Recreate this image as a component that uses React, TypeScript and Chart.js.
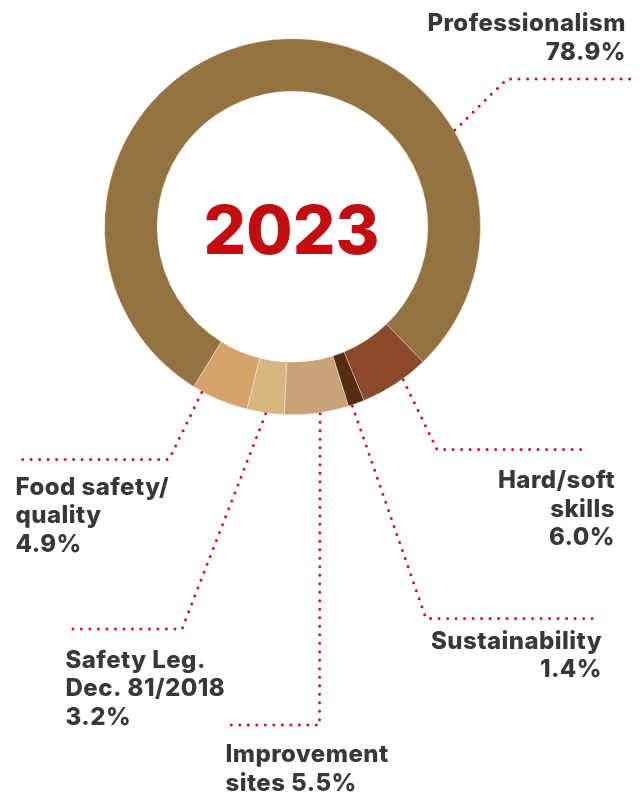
import { useEffect, useRef } from 'react';
import { Chart, ArcElement, DoughnutController } from 'chart.js';

Chart.register(ArcElement, DoughnutController);

// Training hours by topic, 2023 (share of total, %)
const categories = [
  'Professionalism',
  'Hard/soft skills',
  'Sustainability',
  'Improvement sites',
  'Safety Leg. Dec. 81/2018',
  'Food safety/quality',
];
const shares = [78.9, 6.0, 1.4, 5.5, 3.2, 4.9];
const sliceColors = ['#947341', '#8B4A2B', '#552E11', '#C9A278', '#D6B57E', '#D6A26C'];

// Text lines per callout; {v} is replaced by the formatted share
const calloutLines = [
  ['Professionalism', '{v}'],
  ['Hard/soft', 'skills', '{v}'],
  ['Sustainability', '{v}'],
  ['Improvement', 'sites {v}'],
  ['Safety Leg.', 'Dec. 81/2018', '{v}'],
  ['Food safety/', 'quality', '{v}'],
];
const centerTitle = '2023';

// Callout geometry: where on the slice the leader starts (fraction of the arc),
// the elbow of the dotted leader, its horizontal end, and the text block.
type Callout = {
  at: number;
  elbow: [number, number];
  endX: number;
  textX: number;
  align: CanvasTextAlign;
  baseline: number;
};
const callouts: Callout[] = [
  { at: 0.73, elbow: [507, 79], endX: 631, textX: 626, align: 'right', baseline: 31 },
  { at: 0.375, elbow: [437, 449.5], endX: 587, textX: 615, align: 'right', baseline: 488 },
  { at: 0.77, elbow: [426, 618.5], endX: 599, textX: 602, align: 'right', baseline: 648.5 },
  { at: 0.45, elbow: [319.5, 725], endX: 224.5, textX: 225.5, align: 'left', baseline: 762 },
  { at: 0.49, elbow: [182, 629], endX: 65.5, textX: 65.5, align: 'left', baseline: 667.5 },
  { at: 0.83, elbow: [169, 459.5], endX: 20.5, textX: 15.5, align: 'left', baseline: 494.5 },
];

const LINE_HEIGHT = 28.5;
const LABEL_FONT = '800 24px Inter';
const LABEL_COLOR = '#383838';
const LEADER_COLOR = '#D0121C';
const TITLE_COLOR = '#C20E10';

const calloutPlugin = {
  id: 'callouts',
  afterDatasetsDraw(chart: Chart) {
    const ctx = chart.ctx;
    const meta = chart.getDatasetMeta(0);
    const arcs = meta.data as any[];
    if (!arcs.length) return;
    const cx = arcs[0].x;
    const cy = arcs[0].y;

    // centre title
    ctx.save();
    ctx.font = '800 67px Inter';
    ctx.fillStyle = TITLE_COLOR;
    ctx.textAlign = 'center';
    ctx.textBaseline = 'alphabetic';
    ctx.fillText(centerTitle, cx - 1, cy + 27.5);
    ctx.restore();

    arcs.forEach((arc, i) => {
      const c = callouts[i];
      const props = arc.getProps(['startAngle', 'endAngle', 'outerRadius'], true);
      const ang = props.startAngle + (props.endAngle - props.startAngle) * c.at;
      const r = props.outerRadius + 1;
      const sx = cx + Math.cos(ang) * r;
      const sy = cy + Math.sin(ang) * r;

      // dotted leader
      ctx.save();
      ctx.strokeStyle = LEADER_COLOR;
      ctx.lineWidth = 3;
      ctx.lineCap = 'round';
      ctx.setLineDash([0, 8.5]);
      ctx.beginPath();
      ctx.moveTo(sx, sy);
      ctx.lineTo(c.elbow[0], c.elbow[1]);
      ctx.lineTo(c.endX, c.elbow[1]);
      ctx.stroke();
      ctx.restore();

      // label text
      const value = shares[i].toFixed(1) + '%';
      ctx.save();
      ctx.font = LABEL_FONT;
      ctx.fillStyle = LABEL_COLOR;
      ctx.textAlign = c.align;
      ctx.textBaseline = 'alphabetic';
      (ctx as any).letterSpacing = '0.45px';
      calloutLines[i].forEach((line, k) => {
        ctx.fillText(line.replace('{v}', value), c.textX, c.baseline + k * LINE_HEIGHT);
      });
      ctx.restore();
    });
  },
};

export default function App() {
  const canvasRef = useRef<HTMLCanvasElement | null>(null);

  useEffect(() => {
    if (!canvasRef.current) return;
    const chart = new Chart(canvasRef.current, {
      type: 'doughnut',
      data: {
        labels: categories,
        datasets: [
          {
            data: shares,
            backgroundColor: sliceColors,
            borderColor: 'rgba(255,255,255,0.35)',
            borderWidth: 1,
            hoverOffset: 0,
          },
        ],
      },
      options: {
        responsive: false,
        animation: false,
        devicePixelRatio: 1,
        events: [],
        radius: 188,
        cutout: '72%',
        rotation: 211.7,
        layout: { padding: { left: 0, right: 55, top: 0, bottom: 338.6 } },
        plugins: {
          legend: { display: false },
          tooltip: { enabled: false },
        },
      },
      plugins: [calloutPlugin],
    });
    return () => chart.destroy();
  }, []);

  return (
    <div style={{ position: 'absolute', left: 0, top: 0, width: 640, height: 792, background: '#fff' }}>
      <canvas ref={canvasRef} width={640} height={792} style={{ width: 640, height: 792, display: 'block' }} />
    </div>
  );
}
